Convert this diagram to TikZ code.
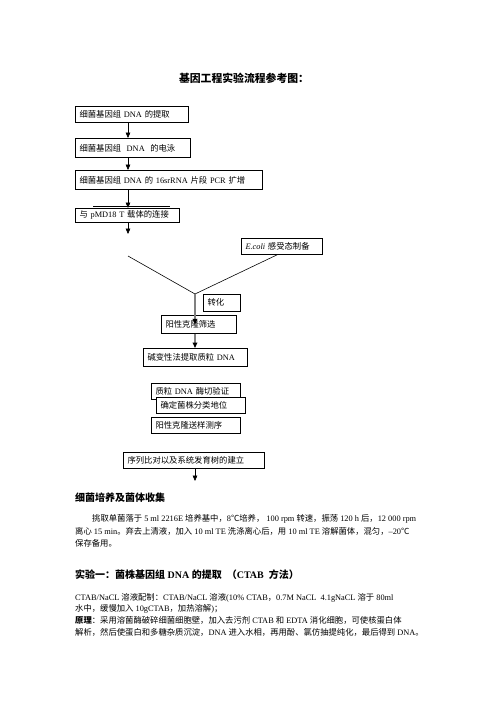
\documentclass[tikz,border=0pt]{standalone}
\usepackage{fontspec}
\setmainfont{Liberation Serif}
\newfontfamily\cjk{Noto Sans CJK SC}
\usetikzlibrary{arrows.meta}

% CJK characters switch to the CJK font, everything else stays serif
\XeTeXinterchartokenstate=1
\count255="4E00 \loop \XeTeXcharclass\count255=7 \ifnum\count255<"9FFF \advance\count255 by 1 \repeat
\count255="3000 \loop \XeTeXcharclass\count255=7 \ifnum\count255<"303F \advance\count255 by 1 \repeat
\count255="FF00 \loop \XeTeXcharclass\count255=7 \ifnum\count255<"FFEF \advance\count255 by 1 \repeat
\XeTeXcharclass"2103=7
\XeTeXinterchartoks 0 7 = {\cjk}
\XeTeXinterchartoks 4095 7 = {\cjk}
\XeTeXinterchartoks 7 0 = {\rmfamily}
\XeTeXinterchartoks 7 4095 = {\rmfamily}

\tikzset{
  stepbox/.style={draw, line width=0.8pt, anchor=north west, inner xsep=5pt,
    inner ysep=0pt, minimum height=19.2pt, align=left,
    font=\fontsize{10}{12}\selectfont},
  flowarrow/.style={-{Triangle[length=6.5pt,width=5.5pt]}, line width=0.8pt},
  grayarrow/.style={-{Triangle[length=6.5pt,width=5.5pt,color=black]}, line width=1.6pt, gray},
  heading/.style={anchor=west, inner sep=0pt, font=\bfseries\fontsize{12}{14}\selectfont},
  body/.style={anchor=west, inner sep=0pt, font=\fontsize{10}{12}\selectfont}
}

\begin{document}
\begin{tikzpicture}[x=1.2pt,y=-1.2pt]
 \useasboundingbox (0,0) rectangle (496,702);
 \node[font=\bfseries\fontsize{13}{15}\selectfont] (title) at (244,78) {基因工程实验流程参考图：};

 % flow chart
 \node[stepbox, text width=125pt] (extract) at (75,106) {细菌基因组 DNA 的提取};
 \node[stepbox, text width=127.4pt, minimum height=22.8pt] (gel) at (75,138) {细菌基因组~ DNA~ 的电泳};
 \node[stepbox, text width=213.8pt, minimum height=22.8pt] (pcr) at (75,170) {细菌基因组 DNA 的 16srRNA 片段 PCR 扩增};
 \node[stepbox, text width=114.2pt, minimum height=16.8pt] (ligate) at (75,208) {与 pMD18 T 载体的连接};
 \node[stepbox, text width=86.6pt] (ecoli) at (241,238) {\textit{E.coli} 感受态制备};
 \node[stepbox, text width=33.8pt, minimum height=20.4pt] (transform) at (203,294) {转化};
 \node[stepbox, text width=79.4pt, minimum height=21.6pt] (screen) at (161,315) {阳性克隆筛选};
 \node[stepbox, text width=114.2pt, minimum height=21.6pt] (plasmid) at (143,348) {碱变性法提取质粒 DNA};
 \node[stepbox, text width=96.2pt] (digest) at (151,383) {质粒 DNA 酶切验证};
 \node[stepbox, text width=96.2pt, fill=white] (classify) at (156,397) {确定菌株分类地位};
 \node[stepbox, text width=96.2pt] (sequence) at (151,417) {阳性克隆送样测序};
 \node[stepbox, text width=158.6pt] (tree) at (123,452) {序列比对以及系统发育树的建立};

 \coordinate (colA) at (128,0);
 \coordinate (ligend) at (128,234);
 \coordinate (forkL) at (128,256);
 \coordinate (fork) at (195,294);
 \coordinate (treeend) at (195,481);

 \draw [flowarrow] (extract.south -| colA) -- (gel.north -| colA);
 \draw [flowarrow] (gel.south -| colA) -- (pcr.north -| colA);
 \draw [flowarrow] (pcr.south -| colA) -- (ligate.north -| colA);
 \draw [flowarrow] (ligate.south -| colA) -- (ligend);
 \draw [line width=1.4pt] (93,206.5) -- (170,206.5);
 \draw [line width=0.7pt] (forkL) -- (fork);
 \draw [line width=0.7pt] ([xshift=-5pt]ecoli.south) -- (fork);
 \draw [grayarrow] (fork) -- (fork |- screen.center);
 \draw [grayarrow] (screen.south -| fork) -- (plasmid.north -| fork);
 \draw [flowarrow] (tree.south -| fork) -- (treeend);

 % text below
 \node[heading] (cult) at (75,498) {细菌培养及菌体收集};
 \node[body] (cult1) at (92,519) {挑取单菌落于 5 ml 2216E 培养基中，8℃培养， 100 rpm 转速，振荡 120 h 后，12 000 rpm};
 \node[body] (cult2) at (75,531) {离心 15 min。弃去上清液，加入 10 ml TE 洗涤离心后，用 10 ml TE 溶解菌体，混匀，–20℃};
 \node[body] (cult3) at (75,543) {保存备用。};

 \node[heading] (exp1) at (75,575) {实验一：菌株基因组 DNA 的提取~ （CTAB~ 方法）};
 \node[body] (exp1a) at (75,598) {CTAB/NaCL 溶液配制：CTAB/NaCL 溶液(10\% CTAB，0.7M NaCL~ 4.1gNaCL 溶于 80ml};
 \node[body] (exp1b) at (75,609) {水中，缓慢加入 10gCTAB，加热溶解)；};
 \node[body] (exp1c) at (75,620) {\textbf{原理}\cjk：采用溶菌酶破碎细菌细胞壁，加入去污剂 CTAB 和 EDTA 消化细胞，可使核蛋白体};
 \node[body] (exp1d) at (75,632) {解析，然后使蛋白和多糖杂质沉淀，DNA 进入水相，再用酚、氯仿抽提纯化，最后得到 DNA。};
\end{tikzpicture}
\end{document}
